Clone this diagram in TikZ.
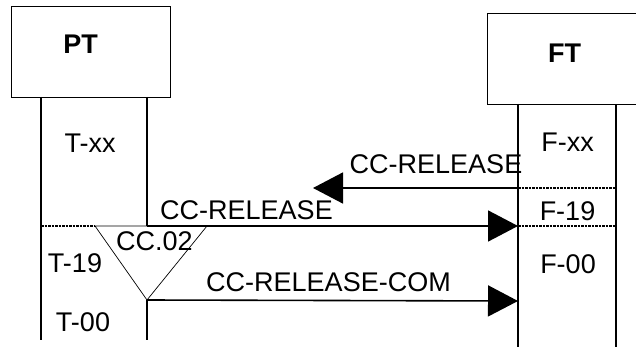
\documentclass[tikz,border=0pt]{standalone}
\usepackage{fontspec}
\setmainfont{Liberation Sans}
\usetikzlibrary{arrows.meta}
\begin{document}
\begin{tikzpicture}[x=1pt,y=-1pt,
  box/.style={draw,line width=0.9pt,inner sep=0pt,anchor=north west},
  lbl/.style={font=\fontsize{27}{29}\selectfont,anchor=base,inner sep=0pt},
  bold/.style={font=\fontsize{27}{29}\selectfont\bfseries,anchor=base,inner sep=0pt},
  life/.style={line width=1.6pt},
  msg/.style={line width=1.6pt,-{Triangle[length=30pt,width=31pt]}},
  sep/.style={line width=1.3pt,dash pattern=on 2.5pt off 1pt},
  thin/.style={line width=0.7pt}]
\useasboundingbox (0,0) rectangle (636,347);
% boxes
\node[box,minimum width=159pt,minimum height=91pt] (ptbox) at (11,6) {};
\node[box,minimum width=160pt,minimum height=91pt] (ftbox) at (487,13) {};
\node[bold] (pt) at (80.5,53.3) {PT};
\node[bold] (ft) at (564.5,62.3) {FT};
% lifeline coordinates
\coordinate (pl0) at (41,97);   \coordinate (pl1) at (41,340);
\coordinate (pr0) at (147,97);  \coordinate (pr1) at (147,226);
\coordinate (pr2) at (147,300); \coordinate (pr3) at (147,340);
\coordinate (fl0) at (518,104); \coordinate (fl1) at (518,347);
\coordinate (fr0) at (616,104); \coordinate (fr1) at (616,347);
\coordinate (fl188) at (518,188); \coordinate (fl226) at (518,226);
\coordinate (fl301) at (518,301);
\coordinate (fr188) at (616,188); \coordinate (fr226) at (616,226);
\coordinate (pl226) at (41,226);
\coordinate (trl) at (95,226); \coordinate (trr) at (207,226);
\coordinate (tip1) at (313,188);
\draw[life] (pl0) -- (pl1);
\draw[life] (pr0) -- (pr1);
\draw[life] (pr2) -- (pr3);
\draw[life] (fl0) -- (fl1);
\draw[life] (fr0) -- (fr1);
% separators
\draw[sep] (pl226) -- (trl);
\draw[sep] (fl188) -- (fr188);
\draw[sep] (fl226) -- (fr226);
% timer triangle
\draw[thin] (trl) -- (trr) -- (pr2) -- cycle;
\node[lbl] (cc02) at (154.5,250) {CC.02};
% messages
\draw[msg] (fl188) -- (tip1);
\draw[msg] (pr1) -- (fl226);
\draw[msg] (pr2) -- (fl301);
\node[lbl] (m1) at (436,174) {CC-RELEASE};
\node[lbl] (m2) at (246.5,219) {CC-RELEASE};
\node[lbl] (m3) at (328.5,291.7) {CC-RELEASE-COM};
% states
\node[lbl] (txx) at (90,153) {T-xx};
\node[lbl] (t19) at (75,272.7) {T-19};
\node[lbl] (t00) at (83,331.7) {T-00};
\node[lbl] (fxx) at (567.5,152) {F-xx};
\node[lbl] (f19) at (567.5,220) {F-19};
\node[lbl] (f00) at (568,273) {F-00};
\end{tikzpicture}
\end{document}
